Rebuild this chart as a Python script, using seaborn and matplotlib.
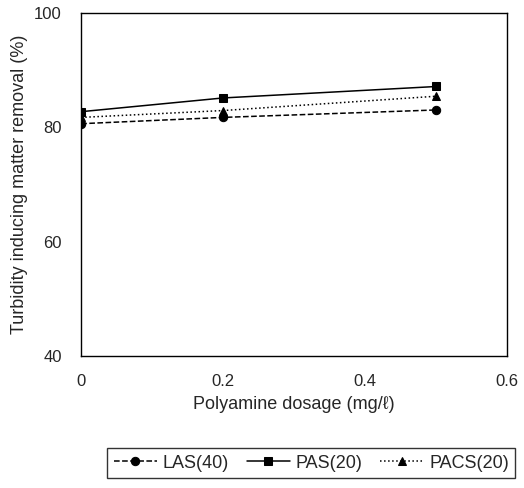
import pandas as pd
import matplotlib
matplotlib.use("Agg")
import matplotlib.pyplot as plt
import seaborn as sns

dosage = [0, 0.2, 0.5]
las = [80.6, 81.7, 83.0]
pas = [82.7, 85.1, 87.1]
pacs = [81.7, 82.9, 85.4]
names = ['LAS(40)', 'PAS(20)', 'PACS(20)']

sns.set_style("white")
plt.rcParams['font.family'] = ['Liberation Sans', 'DejaVu Sans']

fig = plt.figure(figsize=(5.24, 4.88), dpi=100)
ax = fig.add_axes([0.155, 0.2705, 0.813, 0.7035])

styles = [('--', 'o', 6), ('-', 's', 6), (':', '^', 6)]
for vals, name, (ls, mk, ms) in zip([las, pas, pacs], names, styles):
    df = pd.DataFrame({'x': dosage, 'y': vals})
    sns.lineplot(data=df, x='x', y='y', ax=ax, color='black', linestyle=ls,
                 marker=mk, markersize=ms, markeredgecolor='black', lw=1.1, label=name)

ax.set_xlim(0, 0.6)
ax.set_ylim(40, 100)
ax.set_xticks([0, 0.2, 0.4, 0.6])
ax.set_xticklabels(['0', '0.2', '0.4', '0.6'])
ax.set_yticks([40, 60, 80, 100])
for s in ax.spines.values():
    s.set_color('black')
    s.set_linewidth(1.0)
ax.tick_params(length=0, labelsize=12)
ax.tick_params(axis='x', pad=13)
ax.tick_params(axis='y', pad=14)
ax.set_xlabel('Polyamine dosage (mg/ℓ)', fontsize=13, labelpad=5)
ax.set_ylabel('Turbidity inducing matter removal (%)', fontsize=13, labelpad=4)

h, l = ax.get_legend_handles_labels()
ax.get_legend().remove()
leg = fig.legend(h, l, loc='center', bbox_to_anchor=(0.594, 0.051), ncol=3, fontsize=13,
                 frameon=True, fancybox=False, edgecolor='black', handlelength=2.4,
                 handletextpad=0.3, columnspacing=1.0, borderpad=0.35, borderaxespad=0)
leg.get_frame().set_linewidth(1.0)

plt.savefig('out.png', dpi=100)
